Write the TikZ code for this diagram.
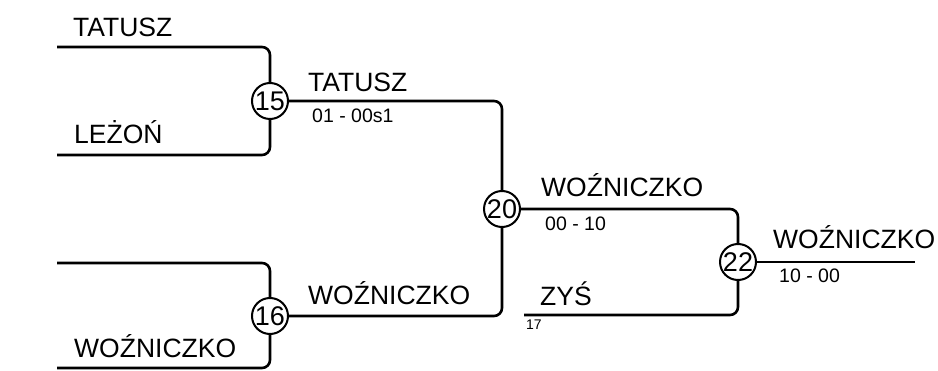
\documentclass[tikz,border=0pt]{standalone}
\usepackage{fontspec}
\setmainfont{Liberation Sans}
\begin{document}
\begin{tikzpicture}[x=1pt,y=-1pt,
  wire/.style={line width=2.6pt,rounded corners=8pt,line cap=butt},
  circ/.style={circle,draw,line width=2pt,minimum size=36pt,inner sep=0pt,font=\fontsize{27}{27}\selectfont},
  big/.style={anchor=base west,inner sep=0pt,font=\fontsize{26.5}{26.5}\selectfont},
  small/.style={anchor=base west,inner sep=0pt,font=\fontsize{19.5}{19.5}\selectfont},
  tiny/.style={anchor=base west,inner sep=0pt,font=\fontsize{14}{14}\selectfont}]
\useasboundingbox (0,0) rectangle (938,371);
% match circles
\node[circ] (m15) at (270,101) {15};
\node[circ] (m16) at (270,316) {16};
\node[circ] (m20) at (502,209) {20};
\node[circ] (m22) at (738,262) {22};
% free ends
\coordinate (a1) at (57,47);
\coordinate (a2) at (57,155);
\coordinate (a3) at (57,263);
\coordinate (a4) at (57,368);
\coordinate (z1) at (524,315);
\coordinate (out) at (915,262);
% connectors
\draw[wire] (a1) -| (m15);
\draw[wire] (a2) -| (m15);
\draw[wire] (a3) -| (m16);
\draw[wire] (a4) -| (m16);
\draw[wire] (m15) -| (m20);
\draw[wire] (m16) -| (m20);
\draw[wire] (m20) -| (m22);
\draw[wire] (z1) -| (m22);
\draw[wire] (m22) -- (out);
% labels
\node[big] (t1) at (73,37) {TATUSZ};
\node[big] (t2) at (74,144) {LEŻOŃ};
\node[big] (t3) at (308,92) {TATUSZ};
\node[small] (s1) at (312,123) {01 - 00s1};
\node[big] (t4) at (541,197) {WOŹNICZKO};
\node[small] (s2) at (545,231) {00 - 10};
\node[big] (t5) at (308,305) {WOŹNICZKO};
\node[big] (t6) at (74,358) {WOŹNICZKO};
\node[big] (t7) at (540,306) {ZYŚ};
\node[tiny] (s3) at (526,330) {17};
\node[big] (t8) at (773,249) {WOŹNICZKO};
\node[small] (s4) at (779,283) {10 - 00};
\end{tikzpicture}
\end{document}
